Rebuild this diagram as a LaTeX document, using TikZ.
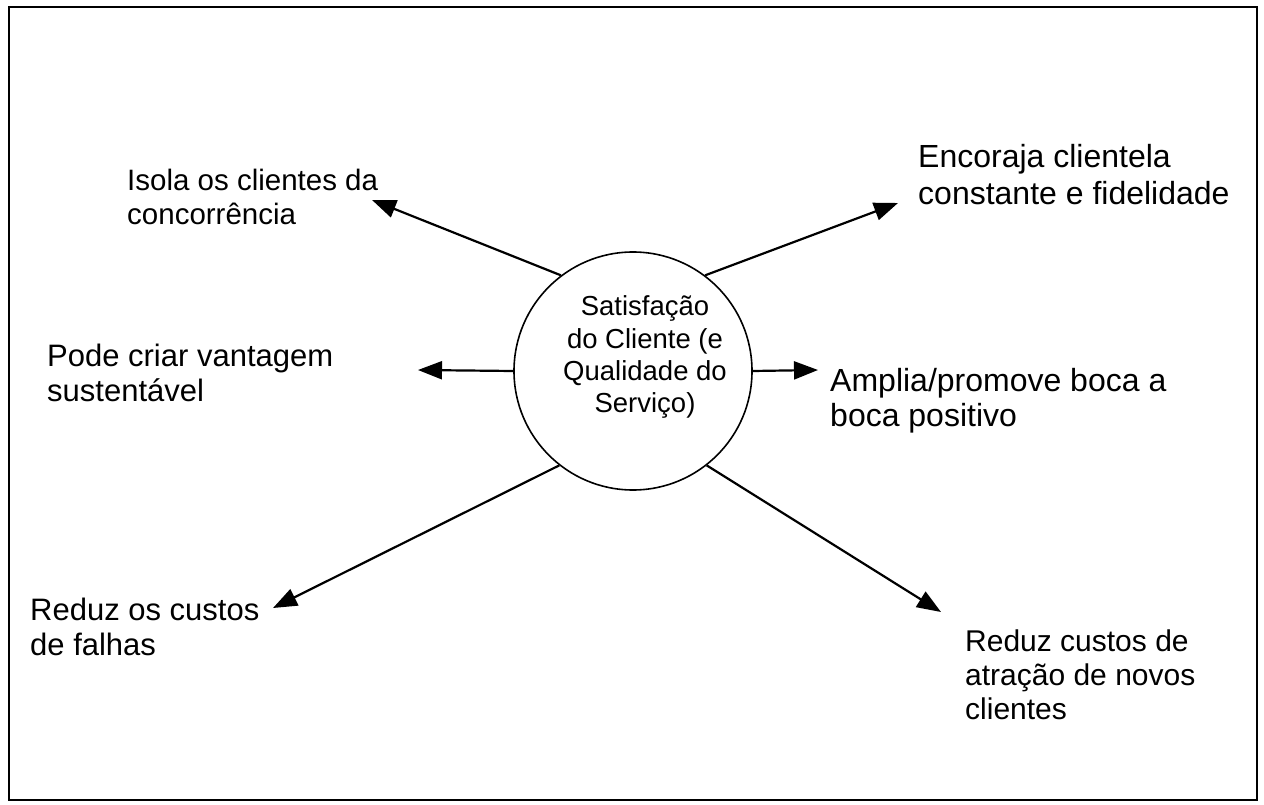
\documentclass[tikz,border=0pt]{standalone}
\usepackage{fontspec}
\setmainfont{Liberation Sans}
\usetikzlibrary{arrows.meta}
\begin{document}
\begin{tikzpicture}[x=1pt,y=-1pt,
  lbl/.style={anchor=base west, inner sep=0pt, font=\fontsize{31}{35}\selectfont},
  conn/.style={line width=2.2pt, -{Triangle[length=24pt,width=18pt]}},
  hub/.style={circle, draw, line width=1.6pt, minimum size=238pt, inner sep=0pt}]
\useasboundingbox (0,0) rectangle (1264,805);
\fill[white] (0,0) rectangle (1264,805);
\draw[line width=2.6pt] (9,7) rectangle (1257,800);
\node[hub] (c) at (633,371) {};
\node[anchor=base, inner sep=0pt, font=\fontsize{27.5}{32.3}\selectfont] (ct) at (645,316)
  {\begin{tabular}[t]{@{}c@{}}Satisfação\\do Cliente (e\\Qualidade do\\Serviço)\end{tabular}};
\coordinate (t1) at (372,200);
\coordinate (t2) at (898,203);
\coordinate (t3) at (418,370);
\coordinate (t4) at (818,370);
\coordinate (t5) at (273,608);
\coordinate (t6) at (941,612);
\draw[conn] (c.127) -- (t1);
\draw[conn] (c.53) -- (t2);
\draw[conn] (c.180) -- (t3);
\draw[conn] (c.0) -- (t4);
\draw[conn] (c.232) -- (t5);
\draw[conn] (c.308) -- (t6);
\node[lbl, font=\fontsize{29.5}{34}\selectfont] (l1) at (127,191) {\begin{tabular}[t]{@{}l@{}}Isola os clientes da\\concorrência\end{tabular}};
\node[lbl, font=\fontsize{32}{37}\selectfont] (l2) at (918,168) {\begin{tabular}[t]{@{}l@{}}Encoraja clientela\\constante e fidelidade\end{tabular}};
\node[lbl] (l3) at (47,366) {\begin{tabular}[t]{@{}l@{}}Pode criar vantagem\\sustentável\end{tabular}};
\node[lbl, font=\fontsize{32}{35}\selectfont] (l4) at (830,391) {\begin{tabular}[t]{@{}l@{}}Amplia/promove boca a\\boca positivo\end{tabular}};
\node[lbl] (l5) at (30,620) {\begin{tabular}[t]{@{}l@{}}Reduz os custos\\de falhas\end{tabular}};
\node[lbl, font=\fontsize{30}{34}\selectfont] (l6) at (965,651) {\begin{tabular}[t]{@{}l@{}}Reduz custos de\\atração de novos\\clientes\end{tabular}};
\end{tikzpicture}
\end{document}
